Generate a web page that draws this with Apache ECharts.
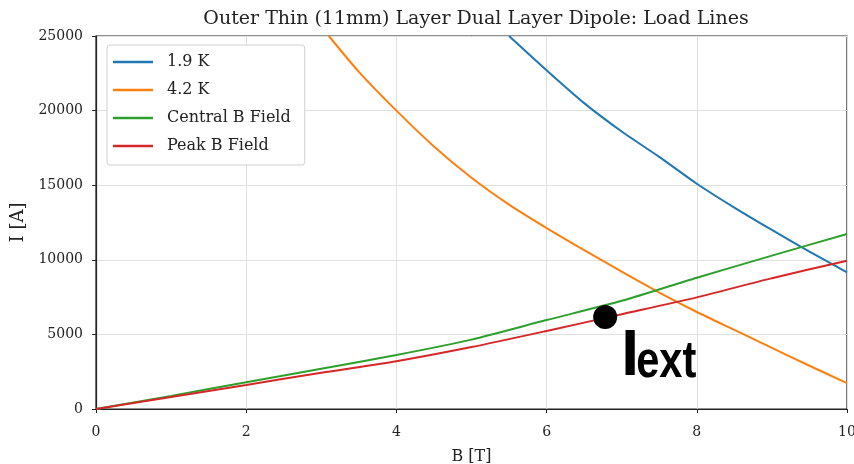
<!DOCTYPE html>
<html>
<head>
<meta charset="utf-8">
<script src="https://cdn.jsdelivr.net/npm/echarts@6/dist/echarts.min.js"></script>
<style>html,body{margin:0;padding:0;background:#fff;}#c{width:854px;height:464px;}</style>
</head>
<body>
<div id="c"></div>
<script>
// 1.9 K load line
const B_19K = [5.5, 6, 6.5, 7, 7.5, 8, 8.5, 9, 9.5, 10];
const I_19K = [25000, 22700, 20500, 18600, 16900, 15100, 13500, 12000, 10550, 9150];
// 4.2 K load line
const B_42K = [3.1, 3.5, 4, 4.5, 5, 5.5, 6, 6.5, 7, 7.5, 8, 8.5, 9, 9.5, 10];
const I_42K = [25000, 22600, 20000, 17600, 15500, 13700, 12130, 10650, 9200, 7800, 6500, 5300, 4100, 2900, 1740];
// Central B field
const B_central = [0, 1, 2, 3, 4, 5, 6, 7, 8, 9, 10];
const I_central = [0, 880, 1790, 2700, 3620, 4650, 5960, 7250, 8800, 10280, 11730];
// Peak B field
const B_peak = [0, 1, 2, 3, 4, 5, 6, 7, 8, 9, 10];
const I_peak = [0, 800, 1610, 2430, 3200, 4150, 5230, 6350, 7480, 8770, 9930];
// operating point
const B_ext = [6.78];
const I_ext = [6170];

const xTicks = [0, 2, 4, 6, 8, 10];
const yTicks = [0, 5000, 10000, 15000, 20000, 25000];

const zip = (a, b) => a.map((v, i) => [v, b[i]]);
const serif = 'DejaVu Serif';

const chart = echarts.init(document.getElementById('c'), null, {renderer: 'canvas'});
const lineSeries = (name, color, data) => ({
  name, type: 'line', data, symbol: 'none', smooth: 0.25,
  lineStyle: {color, width: 2}, itemStyle: {color}, clip: true, z: 2
});
chart.setOption({
  animation: false,
  backgroundColor: '#fff',
  title: {
    text: 'Outer Thin (11mm) Layer Dual Layer Dipole: Load Lines',
    left: 471, top: 5, textAlign: 'center',
    textStyle: {fontFamily: serif, fontWeight: 'normal', fontSize: 19, color: '#222'}
  },
  grid: {left: 96, right: 7, top: 36, bottom: 55, outerBoundsMode: 'none', containLabel: false,
    show: true, borderColor: '#222', borderWidth: 1.2, backgroundColor: 'transparent'},
  legend: {
    orient: 'vertical', left: 107, top: 45,
    padding: [9, 14, 11, 6], itemGap: 12, itemWidth: 40, itemHeight: 2.5,
    icon: 'rect',
    backgroundColor: '#fff', borderColor: '#d0d0d0', borderWidth: 1, borderRadius: 3,
    textStyle: {fontFamily: serif, fontSize: 16, color: '#222', padding: [0, 0, 0, 9]},
    data: ['1.9 K', '4.2 K', 'Central B Field', 'Peak B Field']
  },
  xAxis: {
    type: 'value', min: xTicks[0], max: xTicks[xTicks.length - 1], interval: 2,
    name: 'B [T]', nameLocation: 'middle', nameGap: 40,
    nameTextStyle: {fontFamily: serif, fontSize: 16, color: '#222'},
    axisLine: {show: true, onZero: false, lineStyle: {color: '#222', width: 1.2}},
    axisTick: {show: true, length: 4, lineStyle: {color: '#222'}},
    axisLabel: {fontFamily: serif, fontSize: 14, color: '#222', margin: 16},
    splitLine: {show: true, lineStyle: {color: '#e0e0e0', width: 1}}
  },
  yAxis: {
    type: 'value', min: yTicks[0], max: yTicks[yTicks.length - 1], interval: 5000,
    name: 'I [A]', nameLocation: 'middle', nameGap: 56,
    nameTextStyle: {fontFamily: serif, fontSize: 18, color: '#222'},
    axisLine: {show: true, onZero: false, lineStyle: {color: '#222', width: 1.2}},
    axisTick: {show: true, length: 4, lineStyle: {color: '#222'}},
    axisLabel: {fontFamily: serif, fontSize: 14, color: '#222', margin: 13, formatter: v => String(v)},
    splitLine: {show: true, lineStyle: {color: '#e0e0e0', width: 1}}
  },
  series: [
    lineSeries('1.9 K', '#1f77b4', zip(B_19K, I_19K)),
    lineSeries('4.2 K', '#ff7f0e', zip(B_42K, I_42K)),
    lineSeries('Central B Field', '#2ca02c', zip(B_central, I_central)),
    lineSeries('Peak B Field', '#d62728', zip(B_peak, I_peak)),
    {
      name: 'Iext', type: 'scatter', data: zip(B_ext, I_ext),
      symbol: 'circle', symbolSize: 24, itemStyle: {color: '#000', opacity: 1}, z: 5
    }
  ]
});

// I_ext annotation anchored to the operating point through the chart's own scales
const p = chart.convertToPixel({gridIndex: 0}, [B_ext[0], I_ext[0]]);
chart.setOption({
  graphic: [{
    type: 'group', x: p[0], y: p[1], z: 10,
    children: [
      {type: 'text', x: 16, y: 72, style: {text: 'I', fontFamily: 'Liberation Sans', fontWeight: 'bold', fontSize: 64, fill: '#000', verticalAlign: 'bottom', align: 'left'}},
      {type: 'text', x: 31, y: 72, scaleX: 0.8, style: {text: 'ext', fontFamily: 'Liberation Sans', fontWeight: 'bold', fontSize: 52, fill: '#000', verticalAlign: 'bottom', align: 'left'}}
    ]
  }]
});
</script>
</body>
</html>
